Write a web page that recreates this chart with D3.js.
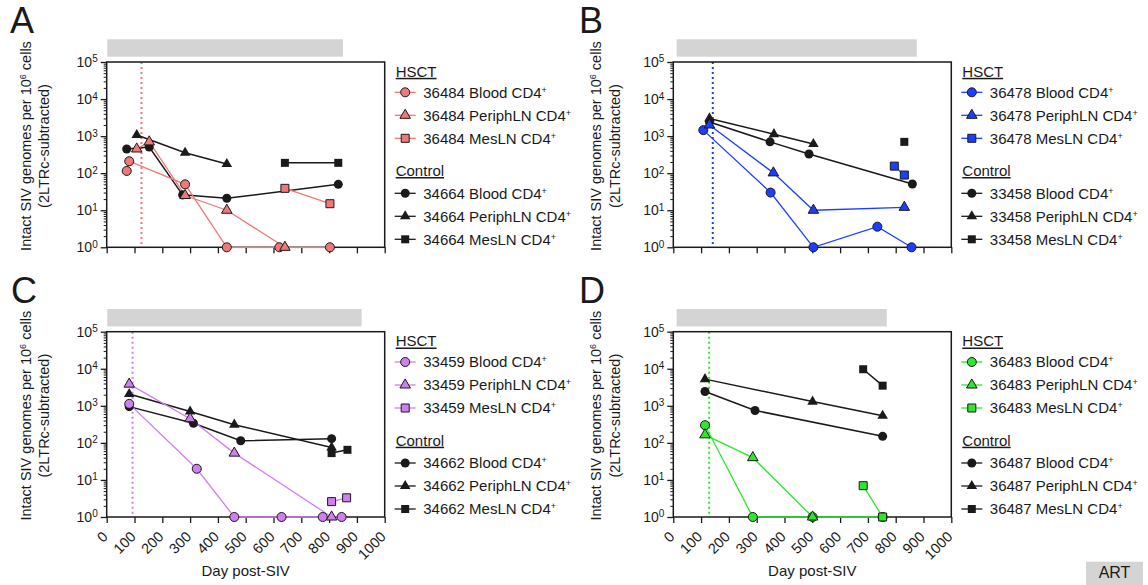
<!DOCTYPE html>
<html>
<head>
<meta charset="utf-8">
<script src="https://cdn.jsdelivr.net/npm/d3@7"></script>
<style>
	body { margin: 0; background: #fff; }
	svg { font-family: "Liberation Sans", Arial, sans-serif; }
</style>
</head>
<body>
<svg id="chart" width="1148" height="585"></svg>
<script>
// ---- data ----
var panelKeys = ["A", "B", "C", "D"];
var hsctIds = ["36484", "36478", "33459", "36483"];
var controlIds = ["34664", "33458", "34662", "36487"];
var tissues = ["Blood", "PeriphLN", "MesLN"];
var hsctColors = ["#f07878", "#1c3fff", "#cf7fef", "#2ee62e"];

// ART period (grey bar) and transplant day (dotted line), days post-SIV
var artStart = [2, 12, 2, 12];
var artEnd = [850, 876, 917, 768];
var transplantDay = [125, 142, 93, 129];

var dayTicks = [0, 100, 200, 300, 400, 500, 600, 700, 800, 900, 1000];
var decadeTicks = [1, 10, 100, 1000, 10000, 100000];

// [day, intact genomes per 10^6 cells]
var a_hsct_blood = [[72, 115], [81, 210], [282, 50], [432, 1], [621, 1], [803, 1]];
var a_hsct_periph = [[108, 450], [153, 700], [282, 25], [432, 10], [641, 1]];
var a_hsct_mes = [[641, 39], [803, 15]];
var a_ctrl_blood = [[72, 450], [153, 510], [273, 26], [432, 21], [833, 50]];
var a_ctrl_periph = [[108, 1070], [282, 355], [432, 177]];
var a_ctrl_mes = [[641, 190], [833, 190]];

var b_hsct_blood = [[108, 1450], [350, 30], [504, 1], [734, 3.6], [857, 1]];
var b_hsct_periph = [[130, 2000], [360, 102], [504, 10], [831, 12]];
var b_hsct_mes = [[795, 155], [831, 89]];
var b_ctrl_blood = [[130, 2400], [348, 700], [488, 330], [860, 51]];
var b_ctrl_periph = [[130, 3000], [362, 1130], [504, 610]];
var b_ctrl_mes = [[831, 700]];

var c_hsct_blood = [[81, 1130], [324, 20], [459, 1], [629, 1], [777, 1], [845, 1]];
var c_hsct_periph = [[81, 3850], [300, 450], [459, 53], [809, 1]];
var c_hsct_mes = [[809, 2.6], [863, 3.3]];
var c_ctrl_blood = [[81, 950], [312, 340], [482, 114], [809, 130]];
var c_ctrl_periph = [[81, 2080], [300, 700], [459, 310], [809, 75]];
var c_ctrl_mes = [[809, 53], [866, 65]];

var d_hsct_blood = [[114, 300], [286, 1], [501, 1], [753, 1]];
var d_hsct_periph = [[114, 165], [286, 40], [501, 1]];
var d_hsct_mes = [[683, 7], [753, 1]];
var d_ctrl_blood = [[114, 2440], [294, 750], [753, 150]];
var d_ctrl_periph = [[114, 5250], [501, 1300], [753, 540]];
var d_ctrl_mes = [[683, 9700], [753, 3500]];

var hsctSeries = [
	[a_hsct_blood, a_hsct_periph, a_hsct_mes],
	[b_hsct_blood, b_hsct_periph, b_hsct_mes],
	[c_hsct_blood, c_hsct_periph, c_hsct_mes],
	[d_hsct_blood, d_hsct_periph, d_hsct_mes]
];
var controlSeries = [
	[a_ctrl_blood, a_ctrl_periph, a_ctrl_mes],
	[b_ctrl_blood, b_ctrl_periph, b_ctrl_mes],
	[c_ctrl_blood, c_ctrl_periph, c_ctrl_mes],
	[d_ctrl_blood, d_ctrl_periph, d_ctrl_mes]
];

// ---- layout ----
var layout = [
	{ left: 106.7, top: 62, letterX: 10, titleX: [26, 44] },
	{ left: 673.3, top: 62, letterX: 579, titleX: [596, 615] },
	{ left: 106.7, top: 331.7, letterX: 11, titleX: [26, 44] },
	{ left: 673.3, top: 331.7, letterX: 579, titleX: [596, 615] }
];
var plotW = 278, plotH = 185.3;
var ink = "#1a1a1a";

var svg = d3.select("#chart");

var x = d3.scaleLinear().domain([0, 1000]).range([0, plotW]);
var y = d3.scaleLog().domain([1, 1e5]).range([plotH, 0]);

var minorTicks = [];
decadeTicks.slice(0, -1).forEach(function(d){
	for( var m = 2; m < 10; m++ ) minorTicks.push(d * m);
});

var line = d3.line()
	.x(function(d){ return x(d[0]); })
	.y(function(d){ return y(d[1]); });

var symTypes = [d3.symbolCircle, d3.symbolTriangle, d3.symbolSquare];
var symSizes = [64, 48, 64];
function sym(i){ return d3.symbol().type(symTypes[i]).size(symSizes[i])(); }

function addSup(sel, main, sup, supSize, lift){
	sel.append("tspan").text(main);
	sel.append("tspan").attr("font-size", supSize).attr("dy", -lift).text(sup);
}

layout.forEach(function(L, p){
	var g = svg.append("g").attr("transform", "translate(" + L.left + "," + L.top + ")");
	var col = hsctColors[p];
	var bottomRow = p >= 2;

	// panel letter
	svg.append("text")
		.attr("x", L.letterX).attr("y", L.top - 29)
		.attr("font-size", 36).attr("fill", ink)
		.text(panelKeys[p]);

	// ART bar
	g.append("rect")
		.attr("x", x(artStart[p]))
		.attr("width", x(artEnd[p]) - x(artStart[p]))
		.attr("y", -22.7).attr("height", 17.4)
		.attr("fill", "#d4d4d4");

	// y title, two lines
	var cy = L.top + 84;
	[0, 1].forEach(function(k){
		var t = svg.append("text")
			.attr("transform", "translate(" + L.titleX[k] + "," + cy + ") rotate(-90)")
			.attr("text-anchor", "middle").attr("dy", "0.35em")
			.attr("font-size", 14.5).attr("fill", ink);
		if( k == 0 ){
			t.append("tspan").text("Intact SIV genomes per 10");
			t.append("tspan").attr("font-size", 9).attr("dy", -5).text("6");
			t.append("tspan").attr("dy", 5).text(" cells");
		}
		else {
			t.text("(2LTRc-subtracted)");
		}
	});

	// transplant day
	g.append("line")
		.attr("x1", x(transplantDay[p])).attr("x2", x(transplantDay[p]))
		.attr("y1", 0).attr("y2", plotH)
		.attr("stroke", col).attr("stroke-width", 2)
		.attr("stroke-dasharray", "2,3");

	// y axis: minor then major
	var yMinor = g.append("g").call(d3.axisLeft(y).tickValues(minorTicks).tickSize(3).tickFormat(""));
	yMinor.select(".domain").remove();
	yMinor.selectAll(".tick line").attr("stroke", ink);

	var yMajor = g.append("g").call(d3.axisLeft(y).tickValues(decadeTicks).tickSize(6).tickPadding(4));
	yMajor.select(".domain").remove();
	yMajor.selectAll(".tick line").attr("stroke", ink).attr("stroke-width", 1.3);
	yMajor.selectAll(".tick text").each(function(d){
		var t = d3.select(this).text("").attr("font-size", 14).attr("fill", ink)
			.attr("font-family", null).attr("x", -9);
		addSup(t, "10", String(Math.round(Math.log10(d))), 10, 4.5);
	});

	// x axis
	var xAxis = g.append("g")
		.attr("transform", "translate(0," + plotH + ")")
		.call(d3.axisBottom(x).tickValues(dayTicks).tickSize(6).tickSizeOuter(0).tickFormat(d3.format("d")));
	xAxis.select(".domain").remove();
	xAxis.selectAll(".tick line").attr("stroke", ink).attr("stroke-width", 1.3);
	if( bottomRow ){
		xAxis.selectAll(".tick text")
			.attr("x", null).attr("y", null).attr("dy", "0.35em")
			.attr("font-family", null).attr("font-size", 14.5).attr("fill", ink)
			.attr("text-anchor", "end")
			.attr("transform", "translate(-2,17) rotate(-45)");

		svg.append("text")
			.attr("x", L.left + plotW / 2).attr("y", 575.5)
			.attr("text-anchor", "middle").attr("font-size", 15).attr("fill", ink)
			.text("Day post-SIV");
	}
	else {
		xAxis.selectAll(".tick text").remove();
	}

	// frame
	g.append("rect")
		.attr("width", plotW).attr("height", plotH)
		.attr("fill", "none").attr("stroke", ink).attr("stroke-width", 1.5);

	// series: controls first, HSCT on top
	var groups = [
		{ data: controlSeries[p], stroke: ink, fill: ink, width: 1.5, outline: "none" },
		{ data: hsctSeries[p], stroke: col, fill: col, width: 1.3, outline: ink }
	];

	groups.forEach(function(grp){
		grp.data.forEach(function(s){
			if( s.length > 1 ){
				g.append("path").datum(s)
					.attr("d", line).attr("fill", "none")
					.attr("stroke", grp.stroke).attr("stroke-width", grp.width);
			}
		});
	});

	groups.forEach(function(grp){
		grp.data.forEach(function(s, ti){
			g.selectAll(null).data(s).enter().append("path")
				.attr("transform", function(d){ return "translate(" + x(d[0]) + "," + y(d[1]) + ")"; })
				.attr("d", sym(ti))
				.attr("fill", grp.fill)
				.attr("stroke", grp.outline)
				.attr("stroke-width", 1);
		});
	});

	// legend
	var leg = g.append("g").attr("transform", "translate(" + (plotW + 10) + ",0)");
	var blocks = [
		{ title: "HSCT", id: hsctIds[p], color: col, outline: ink, titleY: 14.8, rowY: 30.3 },
		{ title: "Control", id: controlIds[p], color: ink, outline: "none", titleY: 114, rowY: 131.3 }
	];
	blocks.forEach(function(b){
		leg.append("text")
			.attr("x", 1).attr("y", b.titleY)
			.attr("font-size", 15).attr("fill", ink)
			.attr("text-decoration", "underline")
			.text(b.title);

		tissues.forEach(function(tis, ti){
			var ry = b.rowY + ti * 23;
			leg.append("line")
				.attr("x1", 0).attr("x2", 21).attr("y1", ry).attr("y2", ry)
				.attr("stroke", b.color).attr("stroke-width", 1.3);
			leg.append("path")
				.attr("transform", "translate(10.5," + ry + ")")
				.attr("d", sym(ti))
				.attr("fill", b.color).attr("stroke", b.outline).attr("stroke-width", 1);
			var t = leg.append("text")
				.attr("x", 28.5).attr("y", ry).attr("dy", "0.35em")
				.attr("font-size", 15).attr("fill", ink);
			addSup(t, b.id + " " + tis + " CD4", "+", 9, 5);
		});
	});
});

// ART key
svg.append("rect")
	.attr("x", 1086).attr("y", 561.7).attr("width", 57).attr("height", 24)
	.attr("fill", "#d4d4d4");
svg.append("text")
	.attr("x", 1114.5).attr("y", 578.3)
	.attr("text-anchor", "middle").attr("font-size", 16).attr("fill", ink)
	.text("ART");
</script>
</body>
</html>
